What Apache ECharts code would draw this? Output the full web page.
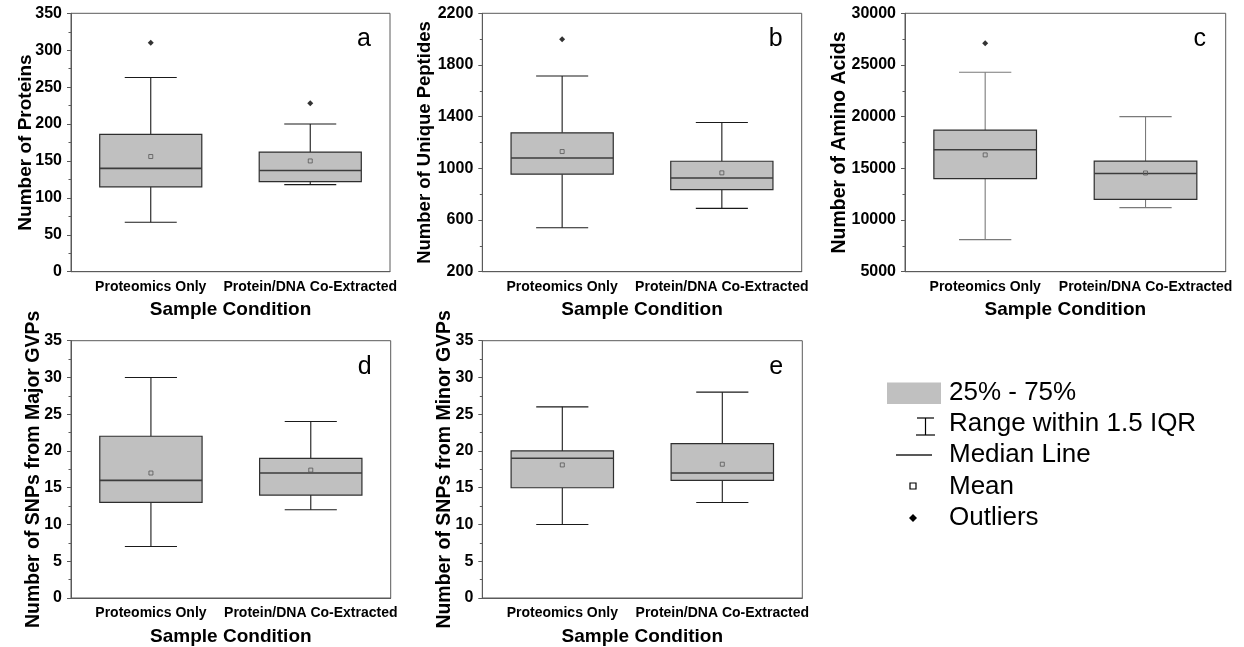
<!DOCTYPE html>
<html>
<head>
<meta charset="utf-8">
<script src="https://cdn.jsdelivr.net/npm/echarts@6/dist/echarts.min.js"></script>
<style>
  html, body { margin: 0; padding: 0; background: #fff; }
  #chart { width: 1244px; height: 647px; }
</style>
</head>
<body>
<div id="chart"></div>
<script>
// categories on every x axis
const categories = ['Proteomics Only', 'Protein/DNA Co-Extracted'];

// each box: [lower whisker, Q1, median, Q3, upper whisker, mean]
const proteins = [[67, 115, 140, 186, 263, 156], [118, 122, 137, 162, 200, 150]];
const proteinOutliers = [[0, 310], [1, 228]];

const peptides = [[540, 955, 1080, 1275, 1715, 1130], [690, 835, 925, 1055, 1355, 965]];
const peptideOutliers = [[0, 2000]];

const aminoAcids = [[8100, 14000, 16800, 18700, 24300, 16300], [11200, 12000, 14500, 15700, 20000, 14550]];
const aminoOutliers = [[0, 27100]];

const majorSnps = [[7, 13, 16, 22, 30, 17], [12, 14, 17, 19, 24, 17.4]];
const minorSnps = [[10, 15, 19, 20, 26, 18.1], [13, 16, 17, 21, 28, 18.2]];

const legendLabels = ['25% - 75%', 'Range within 1.5 IQR', 'Median Line', 'Mean', 'Outliers'];

const FONT = '"Liberation Sans", Arial, sans-serif';

const panels = [
  { boxes: proteins, outliers: proteinOutliers, title: 'Number of Proteins', letter: 'a',
    min: 0, max: 350, step: 50, nameSize: 19, nameGap: 36, whisker: '#1a1a1a',
    rect: { left: 71, top: 13.3, width: 319, height: 258.4 } },
  { boxes: peptides, outliers: peptideOutliers, title: 'Number of Unique Peptides', letter: 'b',
    min: 200, max: 2200, step: 400, nameSize: 18.5, nameGap: 48, whisker: '#1a1a1a',
    rect: { left: 482.3, top: 13.3, width: 319.4, height: 258.4 } },
  { boxes: aminoAcids, outliers: aminoOutliers, title: 'Number of Amino Acids', letter: 'c',
    min: 5000, max: 30000, step: 5000, nameSize: 19.5, nameGap: 55.5, whisker: '#7a7a7a',
    rect: { left: 905, top: 13.3, width: 320.7, height: 258.4 } },
  { boxes: majorSnps, outliers: [], title: 'Number of SNPs from Major GVPs', letter: 'd',
    min: 0, max: 35, step: 5, nameSize: 19.5, nameGap: 27, whisker: '#1a1a1a',
    rect: { left: 71, top: 340.7, width: 319.7, height: 257.6 } },
  { boxes: minorSnps, outliers: [], title: 'Number of SNPs from Minor GVPs', letter: 'e',
    min: 0, max: 35, step: 5, nameSize: 19.5, nameGap: 28, whisker: '#1a1a1a',
    rect: { left: 482.3, top: 340.7, width: 320, height: 257.6 } }
];

function makeRender(whiskerColor) {
  return function (params, api) {
    const i = api.value(0);
    const lo = api.coord([i, api.value(1)]);
    const q1 = api.coord([i, api.value(2)]);
    const med = api.coord([i, api.value(3)]);
    const q3 = api.coord([i, api.value(4)]);
    const hi = api.coord([i, api.value(5)]);
    const mean = api.coord([i, api.value(6)]);
    const band = api.size([1, 0])[0];
    const half = band * 0.32;
    const cap = band * 0.163;
    const x = lo[0];
    const ws = { stroke: whiskerColor, lineWidth: 1.1, fill: null };
    return {
      type: 'group',
      children: [
        { type: 'line', shape: { x1: x, y1: hi[1], x2: x, y2: q3[1] }, style: ws },
        { type: 'line', shape: { x1: x, y1: q1[1], x2: x, y2: lo[1] }, style: ws },
        { type: 'line', shape: { x1: x - cap, y1: hi[1], x2: x + cap, y2: hi[1] }, style: ws },
        { type: 'line', shape: { x1: x - cap, y1: lo[1], x2: x + cap, y2: lo[1] }, style: ws },
        { type: 'rect', shape: { x: x - half, y: q3[1], width: half * 2, height: q1[1] - q3[1] },
          style: { fill: '#c0c0c0', stroke: '#2e2e2e', lineWidth: 1.2 } },
        { type: 'line', shape: { x1: x - half, y1: med[1], x2: x + half, y2: med[1] },
          style: { stroke: '#3c3c3c', lineWidth: 1.6 } },
        { type: 'rect', shape: { x: mean[0] - 2, y: mean[1] - 2, width: 4, height: 4 },
          style: { fill: null, stroke: '#555', lineWidth: 0.8 } }
      ]
    };
  };
}

const grid = [], xAxis = [], yAxis = [], series = [], graphic = [];

panels.forEach(function (p, k) {
  grid.push(Object.assign({ show: true, borderColor: '#5a5a5a', borderWidth: 1, backgroundColor: 'transparent' }, p.rect));
  xAxis.push({
    type: 'category', gridIndex: k, data: categories, boundaryGap: true,
    name: 'Sample Condition', nameLocation: 'middle', nameGap: 29, nameMoveOverlap: false,
    nameTextStyle: { fontFamily: FONT, fontWeight: 'bold', fontSize: 19, color: '#000' },
    axisLine: { lineStyle: { color: '#5a5a5a', width: 1 } },
    axisTick: { alignWithLabel: true, length: 4, lineStyle: { color: '#5a5a5a' } },
    axisLabel: { fontFamily: FONT, fontWeight: 'bold', fontSize: 14, color: '#000', margin: 8, interval: 0 },
    splitLine: { show: false }
  });
  yAxis.push({
    type: 'value', gridIndex: k, min: p.min, max: p.max, interval: p.step,
    name: p.title, nameLocation: 'middle', nameRotate: 90, nameGap: p.nameGap, nameMoveOverlap: false,
    nameTextStyle: { fontFamily: FONT, fontWeight: 'bold', fontSize: p.nameSize, color: '#000' },
    axisLine: { show: true, lineStyle: { color: '#5a5a5a', width: 1 } },
    axisTick: { show: true, length: 4, lineStyle: { color: '#5a5a5a' } },
    minorTick: { show: true, splitNumber: 2, length: 2.5, lineStyle: { color: '#5a5a5a' } },
    axisLabel: { fontFamily: FONT, fontWeight: 'bold', fontSize: 16, color: '#000', margin: 9,
      formatter: function (v) { return String(v); } },
    splitLine: { show: false }
  });
  series.push({
    type: 'custom', xAxisIndex: k, yAxisIndex: k,
    renderItem: makeRender(p.whisker),
    encode: { x: 0, y: [1, 2, 3, 4, 5, 6] },
    data: p.boxes.map(function (b, i) { return [i].concat(b); }),
    z: 3
  });
  if (p.outliers.length) {
    series.push({
      type: 'scatter', xAxisIndex: k, yAxisIndex: k,
      symbol: 'diamond', symbolSize: 6,
      itemStyle: { color: '#000' },
      data: p.outliers, z: 4
    });
  }
  graphic.push({
    type: 'text', x: p.rect.left + p.rect.width - 26, y: p.rect.top + 26,
    style: { text: p.letter, font: '25px ' + FONT, fill: '#000', textAlign: 'center', textVerticalAlign: 'middle' }
  });
});

// key drawn at the right of the lower row
const keyX = 949, rowY = [393, 424, 455, 487, 518];
graphic.push(
  { type: 'rect', shape: { x: 887, y: rowY[0] - 10.5, width: 54, height: 21.5 }, style: { fill: '#c0c0c0' } },
  { type: 'line', shape: { x1: 917, y1: rowY[1] - 6, x2: 934, y2: rowY[1] - 6 }, style: { stroke: '#000', lineWidth: 1.2 } },
  { type: 'line', shape: { x1: 925.5, y1: rowY[1] - 6, x2: 925.5, y2: rowY[1] + 11 }, style: { stroke: '#000', lineWidth: 1.2 } },
  { type: 'line', shape: { x1: 916, y1: rowY[1] + 11, x2: 935, y2: rowY[1] + 11 }, style: { stroke: '#000', lineWidth: 1.2 } },
  { type: 'line', shape: { x1: 896, y1: rowY[2], x2: 932, y2: rowY[2] }, style: { stroke: '#222', lineWidth: 1.6 } },
  { type: 'rect', shape: { x: 910, y: rowY[3] - 4, width: 6, height: 6 }, style: { fill: '#fff', stroke: '#000', lineWidth: 1.2 } },
  { type: 'polygon', shape: { points: [[913, rowY[4] - 4], [917, rowY[4]], [913, rowY[4] + 4], [909, rowY[4]]] }, style: { fill: '#000' } }
);
legendLabels.forEach(function (t, i) {
  graphic.push({
    type: 'text', x: keyX, y: rowY[i],
    style: { text: t, font: '26px ' + FONT, fill: '#000', textVerticalAlign: 'middle' }
  });
});

const chart = echarts.init(document.getElementById('chart'));
chart.setOption({
  animation: false,
  backgroundColor: '#fff',
  grid: grid,
  xAxis: xAxis,
  yAxis: yAxis,
  series: series,
  graphic: graphic
});
</script>
</body>
</html>
